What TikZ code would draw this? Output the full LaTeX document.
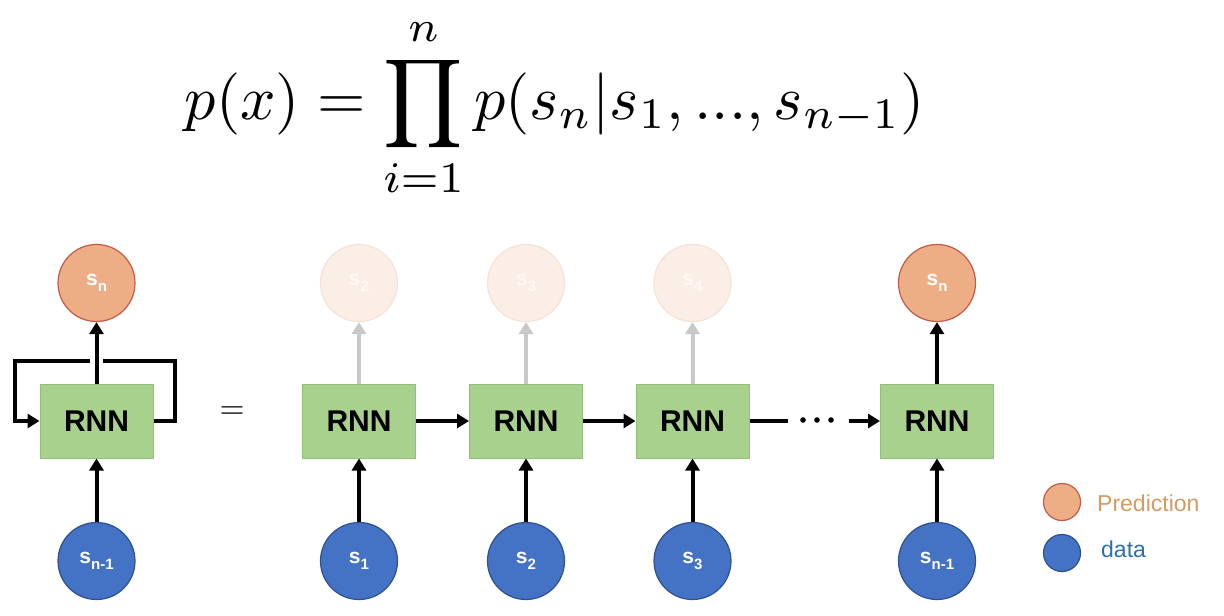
\documentclass[tikz,border=0pt]{standalone}
\usepackage{graphicx}
\usepackage{fontspec}
\setsansfont{Liberation Sans}
\usetikzlibrary{arrows.meta}
\definecolor{predfill}{HTML}{EEAE85}
\definecolor{predline}{HTML}{C65A4A}
\definecolor{fadefill}{HTML}{FBEEE6}
\definecolor{fadeline}{HTML}{F6E3D8}
\definecolor{fadetext}{HTML}{FFF8F3}
\definecolor{datafill}{HTML}{4472C4}
\definecolor{dataline}{HTML}{2F528F}
\definecolor{boxfill}{HTML}{A9D18E}
\definecolor{boxline}{HTML}{93BF77}
\definecolor{arrgray}{HTML}{C8C8C8}
\definecolor{predtext}{HTML}{D39B62}
\definecolor{datatext}{HTML}{2E6FAE}
\newcommand{\lab}[2]{s\raisebox{-0.28em}{\fontsize{15}{15}\selectfont #2}}
\begin{document}
\begin{tikzpicture}[x=1pt,y=-1pt,
  rnnbox/.style={draw=boxline, fill=boxfill, line width=1pt, minimum width=113pt,
    minimum height=74pt, inner sep=0pt, font=\sffamily\bfseries\fontsize{30}{30}\selectfont},
  pred/.style={circle, draw=predline, fill=predfill, line width=1.2pt, minimum size=77pt,
    inner sep=0pt, text=white, font=\sffamily\bfseries\fontsize{21}{21}\selectfont},
  faded/.style={pred, draw=fadeline, fill=fadefill, text=fadetext},
  datac/.style={pred, draw=dataline, fill=datafill},
  arr/.style={line width=4pt, -{Triangle[length=12pt,width=14pt]}},
  plainline/.style={line width=4pt},
  garr/.style={arr, color=arrgray},
  legc/.style={circle, line width=1.2pt, minimum size=37pt, inner sep=0pt},
  legt/.style={anchor=west, inner sep=0pt, font=\sffamily\fontsize{23}{23}\selectfont}
]
\useasboundingbox (0,0) rectangle (1224,616);
\fill[white] (0,0) rectangle (1224,616);

% formula
\node (eq) at (555,108) {\resizebox{740pt}{!}{$\displaystyle p(x)=\prod_{i=1}^{n}p(s_n|s_1,...,s_{n-1})$}};

% left folded RNN
\node[rnnbox] (L) at (96.5,421) {RNN};
\node[pred] (Lo) at (96.5,283) {\lab{s}{n}};
\node[datac] (Li) at (96.5,561) {\lab{s}{n-1}};
\draw[arr] (L.north) -- (Lo.south);
\draw[arr] (Li.north) -- (L.south);
\coordinate (lr) at (175,421);
\coordinate (lt1) at (103,361);
\coordinate (lt2) at (90,361);
\coordinate (ll) at (15,361);
\draw[plainline] (L.east) -- (lr) |- (lt1);
\draw[arr] (lt2) -- (ll) |- (L.west);

\node[inner sep=0pt] (eqsign) at (232,413) {\resizebox{25pt}{!}{$=$}};

% unrolled
\foreach \i/\x/\lbl in {1/359/1, 2/526/2, 3/692.5/3} {
  \node[rnnbox] (R\i) at (\x,421) {RNN};
  \node[datac] (D\i) at (\x,561) {\lab{s}{\lbl}};
  \draw[arr] (D\i.north) -- (R\i.south);
}
\node[faded] (P1) at (359,283) {\lab{s}{2}};
\node[faded] (P2) at (526,283) {\lab{s}{3}};
\node[faded] (P3) at (692.5,283) {\lab{s}{4}};
\draw[garr] (R1.north) -- (P1.south);
\draw[garr] (R2.north) -- (P2.south);
\draw[garr] (R3.north) -- (P3.south);

\node[rnnbox] (R4) at (937,421) {RNN};
\node[pred] (P4) at (937,283) {\lab{s}{n}};
\node[datac] (D4) at (937,561) {\lab{s}{n-1}};
\draw[arr] (R4.north) -- (P4.south);
\draw[arr] (D4.north) -- (R4.south);

\draw[arr] (R1.east) -- (R2.west);
\draw[arr] (R2.east) -- (R3.west);
\coordinate (d1) at (788,421);
\coordinate (d2) at (849,421);
\draw[plainline] (R3.east) -- (d1);
\foreach \dx in {803,817,831} \fill (\dx,420) circle (2.8pt);
\draw[arr] (d2) -- (R4.west);

% legend
\node[legc, draw=predline, fill=predfill] (lg1) at (1062,502) {};
\node[legc, draw=dataline, fill=datafill] (lg2) at (1062,553) {};
\node[legt, text=predtext] (lt1t) at (1097,503) {Prediction};
\node[legt, text=datatext] (lt2t) at (1101,549) {data};
\end{tikzpicture}
\end{document}
